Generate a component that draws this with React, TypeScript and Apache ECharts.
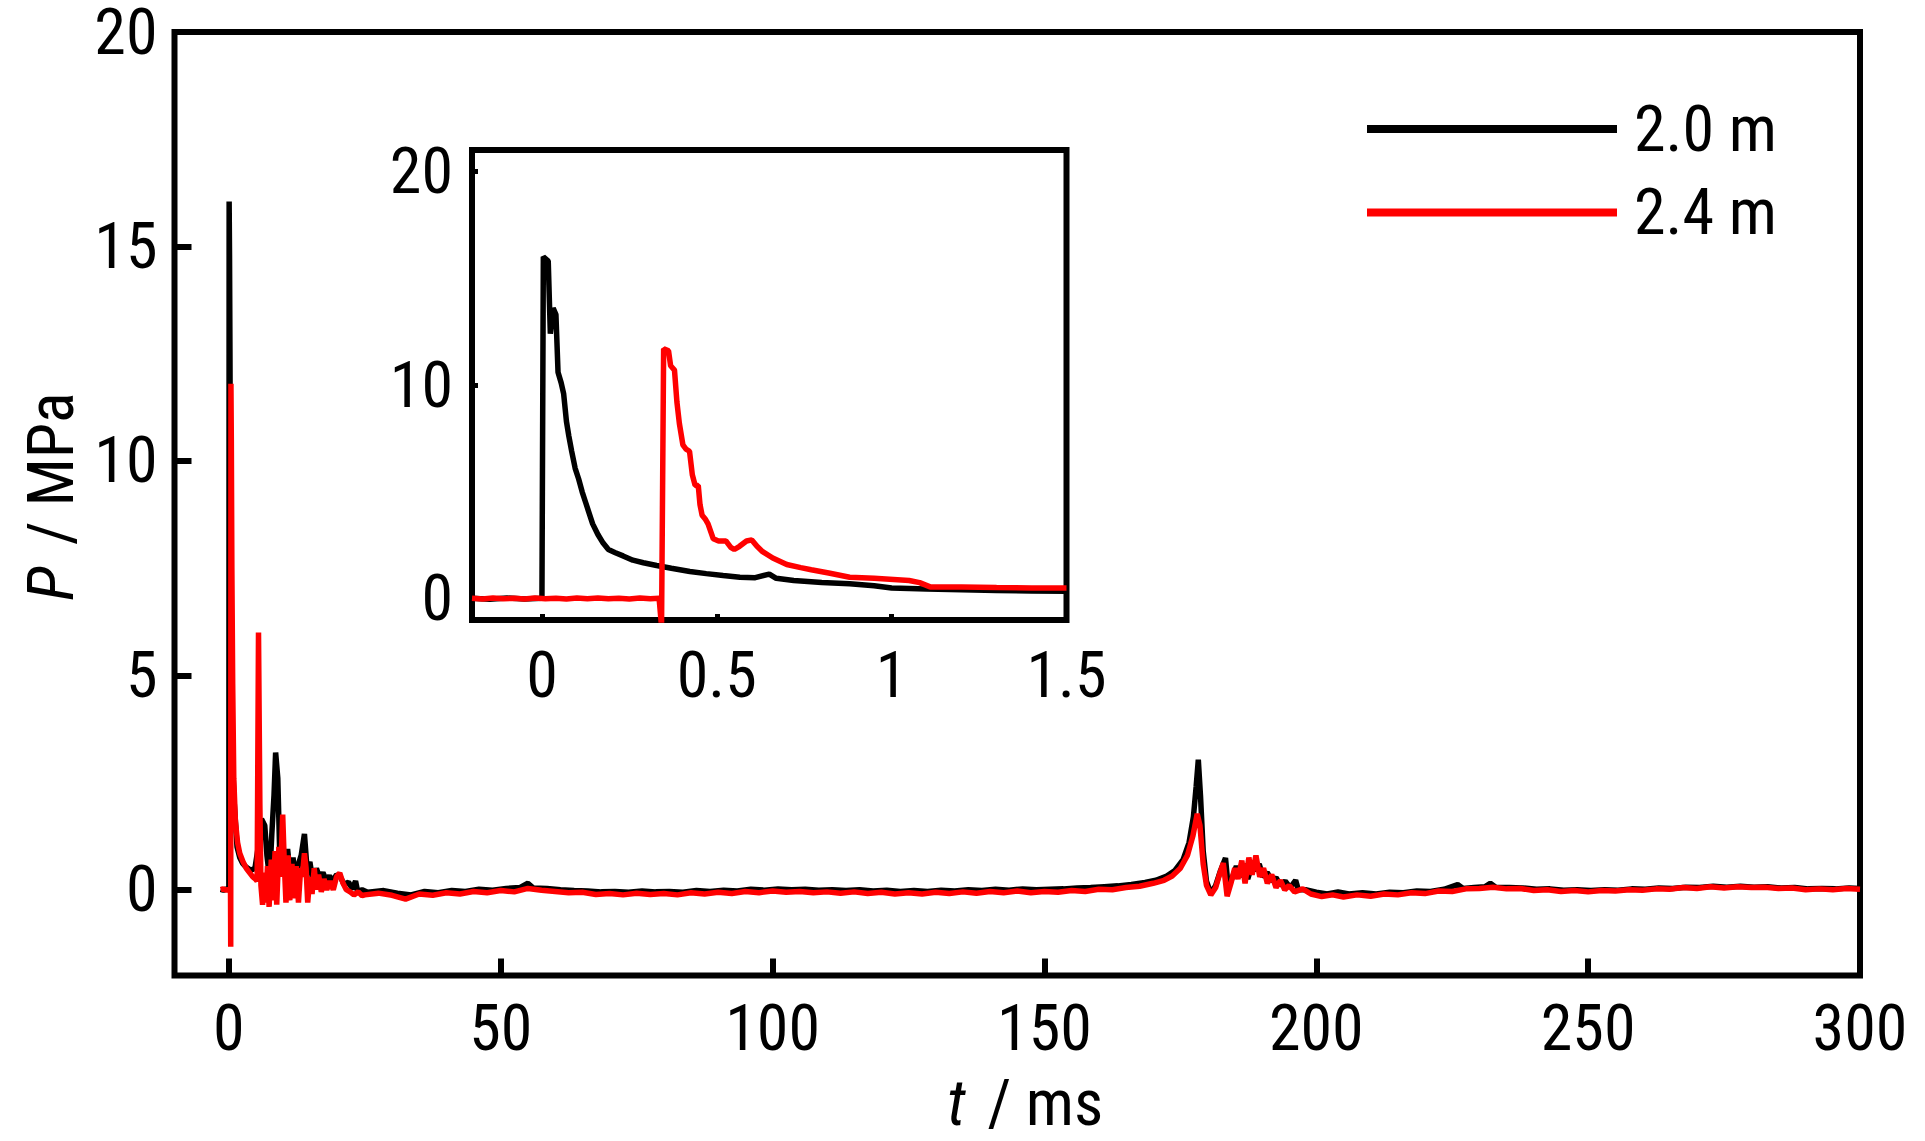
import React, { useEffect, useRef } from "react";
import * as echarts from "echarts";

const NARROW_CANDIDATES = ["Liberation Sans Narrow", "Arial Narrow", "Roboto Condensed", "Noto Sans Condensed", "DejaVu Sans Condensed"];

const seriesNames = ["2.0 m", "2.4 m"];
const mainXTicks = [0, 50, 100, 150, 200, 250, 300];
const mainYTicks = [0, 5, 10, 15, 20];
const insetXTicks = [0, 0.5, 1, 1.5];
const insetYTicks = [0, 10, 20];

// 2.0 m, full record (t ms, P MPa)
const black20Main: [number, number][] = [
  [-1.5, 0.01], [-1.0, -0.01], [-0.5, 0.02], [-0.1, 0.0], [0.0, 0.05], [0.05, 16.05], [0.12, 14.8],
  [0.2, 12.5], [0.3, 9.0], [0.45, 5.6], [0.6, 3.8], [0.8, 2.6], [1.0, 2.0], [1.5, 1.0], [2.0, 0.75],
  [2.5, 0.62], [3.0, 0.55], [3.5, 0.5], [4.0, 0.45], [4.8, 0.5], [5.4, 1.0], [6.0, 1.65], [6.6, 1.5],
  [7.0, 0.8], [7.5, 0.25], [7.9, 1.3], [8.3, 2.2], [8.6, 3.2], [9.0, 2.6], [9.4, 0.6], [9.8, 1.2],
  [10.3, 0.45], [10.8, 0.95], [11.3, 0.3], [11.8, 0.75], [12.3, 0.2], [12.8, 0.6], [13.3, 0.8],
  [13.9, 1.3], [14.4, 0.45], [14.9, 0.65], [15.5, 0.15], [16.1, 0.5], [16.7, 0.27], [17.3, 0.4],
  [17.9, 0.22], [18.5, 0.32], [19.1, 0.2], [19.8, 0.35], [20.5, 0.3], [21.2, 0.12], [22.0, 0.18],
  [22.7, 0.02], [23.3, 0.2], [23.7, -0.05], [24.5, 0.0], [25.5, -0.06],
  [26, -0.05], [28.5, -0.02], [31, -0.08], [33.5, -0.12], [36, -0.04], [38.5, -0.07], [41, -0.02],
  [43.5, -0.04], [46, 0.01], [48.5, -0.01], [51, 0.03], [53.5, 0.05], [55, 0.15], [56, 0.04],
  [58.5, 0.03], [61, 0.0], [63.5, -0.02], [66, -0.03], [68.5, -0.05], [71, -0.04], [73.5, -0.06],
  [76, -0.03], [78.5, -0.05], [81, -0.04], [83.5, -0.06], [86, -0.02], [88.5, -0.04], [91, -0.01],
  [93.5, -0.03], [96, 0.01], [98.5, -0.01], [101, 0.02], [103.5, 0.0], [106, 0.01], [108.5, -0.01],
  [111, 0.0], [113.5, -0.02], [116, 0.0], [118.5, -0.03], [121, -0.01], [123.5, -0.04], [126, -0.02],
  [128.5, -0.04], [131, -0.01], [133.5, -0.03], [136, 0.0], [138.5, -0.02], [141, 0.01], [143.5, -0.01],
  [146, 0.02], [148.5, 0.0], [151, 0.01], [153.5, 0.02], [156, 0.04], [158.5, 0.05], [161, 0.07],
  [163.5, 0.09], [166, 0.12], [168.5, 0.17], [170.5, 0.22], [172.5, 0.32], [174, 0.45], [175.5, 0.7],
  [176.6, 1.1], [177.4, 1.7], [177.9, 2.4], [178.3, 3.03], [178.7, 2.2], [179.2, 0.9], [179.8, 0.2],
  [180.6, -0.08], [181.5, 0.1], [182.4, 0.45], [183.3, 0.74], [183.8, 0.05], [184.6, 0.3], [185.3, 0.55],
  [186, 0.3], [186.7, 0.6], [187.4, 0.25], [188.1, 0.55], [188.8, 0.45], [189.5, 0.6], [190.2, 0.3],
  [191, 0.4], [191.8, 0.2], [192.6, 0.28], [193.4, 0.1], [194.3, 0.2], [195.2, 0.05], [196.2, 0.22],
  [196.7, 0.0], [198, 0.0], [200, -0.06], [202, -0.1], [204, -0.05], [206, -0.1], [208.5, -0.07],
  [211, -0.1], [213.5, -0.06], [216, -0.07], [218.5, -0.03], [221, -0.04], [223.5, 0.01], [226, 0.12],
  [227, 0.03], [229, 0.05], [231, 0.07], [232, 0.15], [233, 0.06], [235.5, 0.05], [238, 0.04],
  [240.5, 0.01], [243, 0.02], [245.5, -0.01], [248, 0.0], [250.5, -0.02], [253, 0.0], [255.5, -0.01],
  [258, 0.02], [260.5, 0.01], [263, 0.04], [265.5, 0.03], [268, 0.06], [270.5, 0.05], [273, 0.08],
  [275.5, 0.06], [278, 0.08], [280.5, 0.06], [283, 0.07], [285.5, 0.04], [288, 0.05], [290.5, 0.02],
  [293, 0.03], [295.5, 0.02], [298, 0.04], [300, 0.03],
];

// 2.4 m, full record (t ms, P MPa)
const red24Main: [number, number][] = [
  [-1.5, 0.0], [-1.0, 0.02], [-0.5, -0.01], [0.0, 0.01], [0.3, 0.0], [0.34, -1.33], [0.38, 11.8],
  [0.45, 10.5], [0.55, 7.5], [0.7, 4.8], [0.9, 2.6], [1.2, 1.6], [1.6, 1.1], [2.0, 0.85], [2.6, 0.65],
  [3.2, 0.5], [3.8, 0.4], [4.4, 0.3], [4.9, 0.25], [5.2, 0.2], [5.45, 6.0], [5.7, 2.0], [5.9, 0.1],
  [6.2, -0.35], [6.5, 0.4], [6.8, -0.3], [7.1, 0.55], [7.4, -0.4], [7.8, 0.7], [8.1, -0.25],
  [8.5, 0.9], [8.8, -0.35], [9.2, 1.0], [9.5, 0.3], [9.9, 1.75], [10.2, 0.6], [10.5, -0.3],
  [10.9, 0.8], [11.2, -0.25], [11.6, 0.6], [12.0, -0.2], [12.4, 0.55], [12.8, -0.3], [13.2, 0.5],
  [13.5, 0.3], [13.9, 0.85], [14.2, 0.5], [14.5, -0.3], [14.9, 0.3], [15.3, -0.1], [15.7, 0.5],
  [16.1, 0.0], [16.5, 0.35], [17.0, -0.05], [17.5, 0.25], [18.0, 0.0], [18.6, 0.2], [19.2, 0.0],
  [19.8, 0.3], [20.4, 0.39], [21.0, 0.15], [21.6, 0.0], [22.3, -0.05], [23.0, -0.12], [23.8, -0.05],
  [24.5, -0.14], [25, -0.12], [27.5, -0.08], [30, -0.13], [32.5, -0.22], [35, -0.1], [37.5, -0.13],
  [40, -0.07], [42.5, -0.1], [45, -0.04], [47.5, -0.07], [50, -0.02], [52.5, -0.05], [55, 0.03],
  [57.5, -0.01], [60, -0.04], [62.5, -0.07], [65, -0.06], [67.5, -0.11], [70, -0.09], [72.5, -0.12],
  [75, -0.08], [77.5, -0.11], [80, -0.09], [82.5, -0.12], [85, -0.07], [87.5, -0.1], [90, -0.06],
  [92.5, -0.09], [95, -0.04], [97.5, -0.07], [100, -0.03], [102.5, -0.06], [105, -0.04], [107.5, -0.07],
  [110, -0.05], [112.5, -0.08], [115, -0.05], [117.5, -0.09], [120, -0.06], [122.5, -0.1], [125, -0.07],
  [127.5, -0.1], [130, -0.06], [132.5, -0.09], [135, -0.05], [137.5, -0.08], [140, -0.04], [142.5, -0.07],
  [145, -0.03], [147.5, -0.07], [150, -0.04], [152.5, -0.06], [155, -0.02], [157.5, -0.04], [160, 0.01],
  [162.5, 0.0], [165, 0.05], [167.5, 0.08], [170, 0.15], [172, 0.22], [173.5, 0.32], [175, 0.5],
  [176.3, 0.8], [177.3, 1.25], [178.1, 1.77], [178.6, 1.5], [179.2, 0.6], [179.8, 0.1], [180.6, -0.12],
  [181.5, 0.05], [182.3, 0.4], [182.9, 0.62], [183.6, -0.15], [184.3, 0.15], [185, 0.5], [185.6, 0.25],
  [186.3, 0.68], [186.9, 0.15], [187.6, 0.75], [188.2, 0.35], [188.9, 0.8], [189.6, 0.3], [190.3, 0.5],
  [191, 0.15], [191.8, 0.35], [192.6, 0.05], [193.4, 0.22], [194.2, 0.0], [195, 0.1], [196, -0.05],
  [197.5, 0.02], [199, -0.1], [201, -0.16], [203, -0.12], [205, -0.17], [207.5, -0.12], [210, -0.15],
  [212.5, -0.1], [215, -0.12], [217.5, -0.07], [220, -0.09], [222.5, -0.03], [225, -0.04], [227.5, 0.02],
  [230, 0.03], [232.5, 0.06], [235, 0.02], [237.5, 0.03], [240, -0.02], [242.5, 0.0], [245, -0.04],
  [247.5, -0.02], [250, -0.05], [252.5, -0.02], [255, -0.03], [257.5, 0.0], [260, -0.01], [262.5, 0.02],
  [265, 0.01], [267.5, 0.05], [270, 0.03], [272.5, 0.07], [275, 0.04], [277.5, 0.07], [280, 0.05],
  [282.5, 0.06], [285, 0.03], [287.5, 0.04], [290, 0.0], [292.5, 0.02], [295, 0.0], [297.5, 0.03],
  [300, 0.01],
];

// inset: first 1.5 ms
const black20Inset: [number, number][] = [
  [-0.2, 0.02], [-0.15, -0.03], [-0.1, 0.03], [-0.05, -0.02], [0.0, 0.02], [0.004, 16.0], [0.018, 15.8],
  [0.024, 12.4], [0.032, 13.6], [0.04, 13.3], [0.046, 10.6], [0.055, 10.1], [0.062, 9.6], [0.07, 8.3],
  [0.077, 7.6], [0.085, 6.9], [0.095, 6.1], [0.105, 5.6], [0.115, 5.0], [0.125, 4.5], [0.133, 4.1],
  [0.145, 3.5], [0.16, 3.0], [0.175, 2.6], [0.19, 2.3], [0.21, 2.15], [0.232, 2.0], [0.26, 1.8],
  [0.29, 1.68], [0.328, 1.55], [0.37, 1.42], [0.423, 1.27], [0.47, 1.17], [0.518, 1.08], [0.566, 1.0],
  [0.61, 0.98], [0.65, 1.15], [0.67, 0.95], [0.72, 0.85], [0.8, 0.75], [0.88, 0.7], [0.95, 0.6],
  [1.0, 0.5], [1.1, 0.45], [1.2, 0.42], [1.3, 0.38], [1.4, 0.36], [1.5, 0.34],
];

const red24Inset: [number, number][] = [
  [-0.2, 0.02], [-0.17, -0.02], [-0.14, 0.03], [-0.11, -0.01], [-0.08, 0.02], [-0.05, -0.02],
  [-0.02, 0.03], [0.01, -0.01], [0.04, 0.02], [0.07, -0.02], [0.1, 0.03], [0.13, 0.0], [0.16, 0.03],
  [0.19, -0.01], [0.22, 0.02], [0.25, -0.02], [0.28, 0.03], [0.31, 0.0], [0.335, 0.02], [0.342, -1.3],
  [0.348, 11.7], [0.362, 11.6], [0.368, 10.9], [0.379, 10.7], [0.386, 9.2], [0.393, 8.2], [0.403, 7.2],
  [0.412, 7.0], [0.422, 6.9], [0.43, 5.8], [0.438, 5.3], [0.447, 5.3], [0.452, 4.4], [0.458, 3.9],
  [0.468, 3.7], [0.475, 3.5], [0.49, 2.8], [0.505, 2.7], [0.526, 2.7], [0.54, 2.4], [0.55, 2.3],
  [0.565, 2.45], [0.585, 2.7], [0.6, 2.75], [0.615, 2.45], [0.631, 2.2], [0.66, 1.9], [0.7, 1.6],
  [0.74, 1.45], [0.77, 1.35], [0.82, 1.2], [0.88, 1.0], [0.95, 0.95], [1.05, 0.85], [1.08, 0.75],
  [1.11, 0.55], [1.2, 0.55], [1.3, 0.52], [1.4, 0.5], [1.5, 0.5],
];

const BLACK = "#000000";
const RED = "#ff0000";

function fontAvailable(name: string): boolean {
  const ctx = document.createElement("canvas").getContext("2d");
  if (!ctx) return false;
  const s = "300 2.0 m MPa 0.5";
  for (const base of ["monospace", "serif"]) {
    ctx.font = `64px ${base}`;
    const w0 = ctx.measureText(s).width;
    ctx.font = `64px "${name}", ${base}`;
    const w1 = ctx.measureText(s).width;
    if (Math.abs(w1 - w0) > 0.5) return true;
  }
  return false;
}

function pickFont(): { family: string; size: number } {
  for (const c of NARROW_CANDIDATES) {
    if (fontAvailable(c)) return { family: `"${c}", "Liberation Sans", sans-serif`, size: 64 };
  }
  return { family: `"Liberation Sans", Arial, sans-serif`, size: 57 };
}

export default function App() {
  const ref = useRef<HTMLDivElement>(null);
  useEffect(() => {
    if (!ref.current) return;
    const { family: FONT, size: FS } = pickFont();
    const chart = echarts.init(ref.current, undefined, { renderer: "svg" });

    const axisCommon = (ticks: number[], tickLen: number, tickW: number, margin: number) => ({
      type: "value" as const,
      axisLine: { show: false, onZero: false },
      axisTick: { show: true, inside: true, length: tickLen, lineStyle: { color: BLACK, width: tickW }, customValues: ticks },
      axisLabel: { show: true, customValues: ticks, fontSize: FS, lineHeight: 50, color: BLACK, fontFamily: FONT, margin },
      splitLine: { show: false },
      minorTick: { show: false },
    });

    const nameStyle = (pad: number[]) => ({
      fontSize: FS,
      lineHeight: 50,
      color: BLACK,
      fontFamily: FONT,
      padding: pad,
      rich: { i: { fontStyle: "italic", fontSize: FS, lineHeight: 50, color: BLACK, fontFamily: FONT, padding: [0, 7, 0, 0] } },
    });

    chart.setOption({
      animation: false,
      backgroundColor: "#ffffff",
      textStyle: { fontFamily: FONT },
      legend: {
        orient: "vertical",
        left: 1367,
        top: 97,
        padding: 0,
        itemWidth: 250,
        itemHeight: 8,
        itemGap: 19.5,
        icon: "rect",
        selectedMode: false,
        data: seriesNames,
        textStyle: { fontSize: FS, lineHeight: 64, color: BLACK, fontFamily: FONT, padding: [0, 0, 0, 12] },
      },
      grid: [
        { left: 174.5, top: 32, right: 65, bottom: 165.5, show: true, borderColor: BLACK, borderWidth: 6, backgroundColor: "transparent", containLabel: false, outerBoundsMode: "none" },
        { left: 472, top: 150, right: 858.5, bottom: 521, show: true, borderColor: BLACK, borderWidth: 6, backgroundColor: "#ffffff", z: 5, containLabel: false, outerBoundsMode: "none" },
      ],
      xAxis: [
        {
          ...axisCommon(mainXTicks, 17, 6, 28),
          gridIndex: 0, min: -10, max: 300,
          name: "{i|t} / ms", nameLocation: "middle", nameGap: 103, nameTextStyle: nameStyle([0, 0, 0, 16]),
        },
        { ...axisCommon(insetXTicks, 6, 5, 30), gridIndex: 1, min: -0.2, max: 1.5, z: 6 },
      ],
      yAxis: [
        {
          ...axisCommon(mainYTicks, 17, 6, 17),
          gridIndex: 0, min: -2, max: 20,
          name: "{i|P} / MPa", nameLocation: "middle", nameGap: 95, nameTextStyle: nameStyle([0, 0, 0, 14]),
        },
        { ...axisCommon(insetYTicks, 6, 5, 19), gridIndex: 1, min: -1, max: 21, z: 6 },
      ],
      series: [
        { type: "line", name: seriesNames[0], xAxisIndex: 0, yAxisIndex: 0, data: black20Main, symbol: "none", showSymbol: false, lineStyle: { color: BLACK, width: 5.5 }, itemStyle: { color: BLACK }, z: 2 },
        { type: "line", name: seriesNames[1], xAxisIndex: 0, yAxisIndex: 0, data: red24Main, symbol: "none", showSymbol: false, lineStyle: { color: RED, width: 5.5 }, itemStyle: { color: RED }, z: 3 },
        { type: "line", name: seriesNames[0], xAxisIndex: 1, yAxisIndex: 1, data: black20Inset, symbol: "none", showSymbol: false, lineStyle: { color: BLACK, width: 5.5 }, itemStyle: { color: BLACK }, z: 6 },
        { type: "line", name: seriesNames[1], xAxisIndex: 1, yAxisIndex: 1, data: red24Inset, symbol: "none", showSymbol: false, lineStyle: { color: RED, width: 5.5 }, itemStyle: { color: RED }, z: 7 },
      ],
    });
    return () => chart.dispose();
  }, []);
  return <div ref={ref} style={{ position: "fixed", left: 0, top: 0, width: 1925, height: 1141 }} />;
}
